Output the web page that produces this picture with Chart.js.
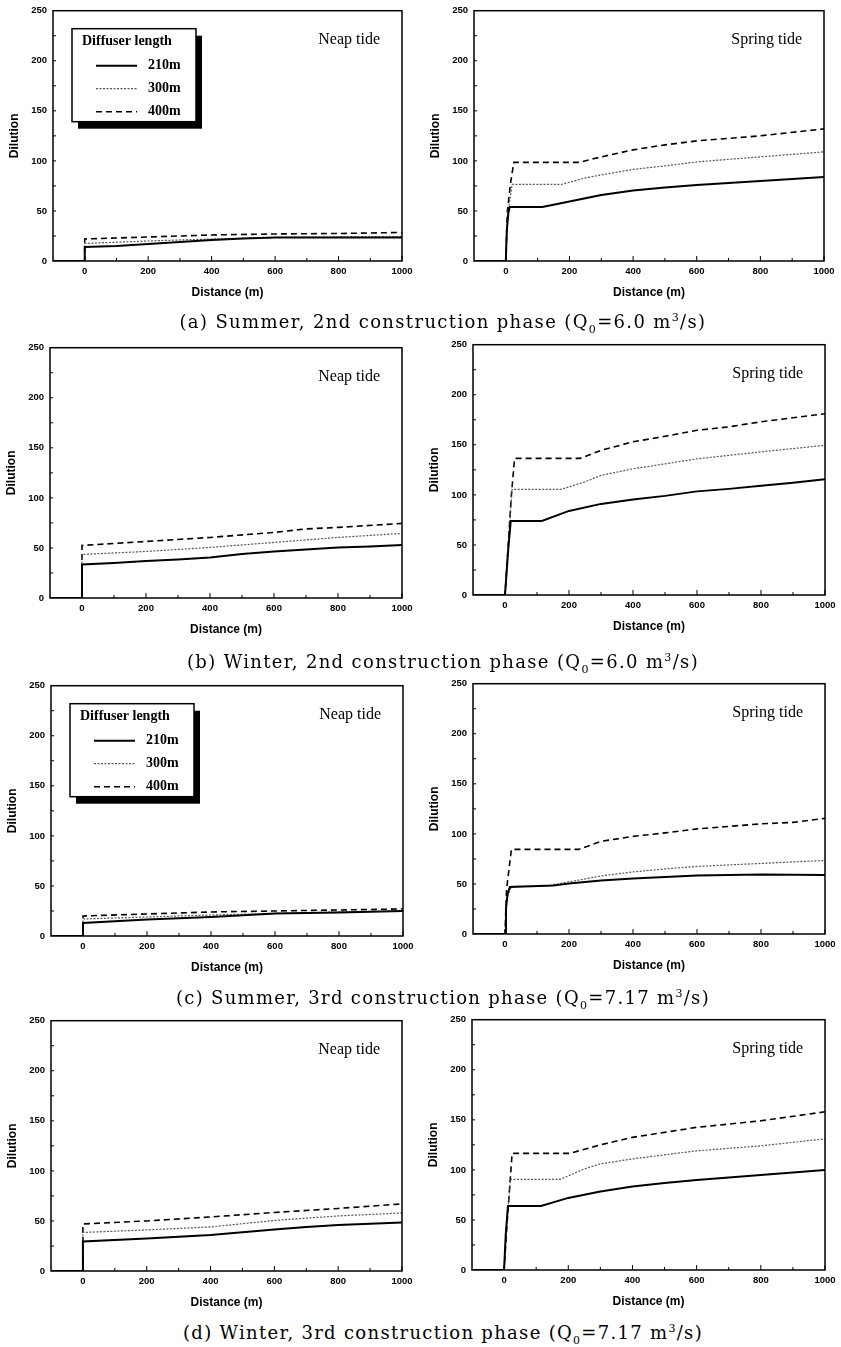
<!DOCTYPE html>
<html>
<head>
<meta charset="utf-8">
<script src="https://cdn.jsdelivr.net/npm/chart.js@4.4.1/dist/chart.umd.min.js"></script>
<style>
  body { margin: 0; background: #fff; width: 841px; height: 1347px; position: relative; overflow: hidden; }
  .panel { position: absolute; }
  .cap { position: absolute; font-family: "DejaVu Serif", "Liberation Serif", serif; font-size: 18px;
         line-height: 24px; white-space: nowrap; color: #000; }
  .cap sub, .cap sup { font-size: 11px; line-height: 0; }
</style>
</head>
<body>
<script>
// series names (diffuser length)
const lengthLabels = ['210m', '300m', '400m'];
const xTickStep = 100;
const yTickStep = 50;

// (a) Summer, 2nd phase
const aNeap210 = [[-100,0],[0,0],[0,14],[100,15],[200,17],[300,19],[400,21],[500,22.5],[600,23.5],[800,23.5],[1000,23.5]];
const aNeap300 = [[-100,0],[0,0],[0,17.5],[200,20],[400,22],[600,23.5],[800,24],[1000,24.5]];
const aNeap400 = [[-100,0],[0,0],[0,22],[200,24],[400,26],[600,27],[800,27.5],[1000,28.5]];
const aSpring210 = [[-100,0],[0,0],[3,30],[8,48],[12,54],[115,54],[200,59.5],[300,66],[400,70.5],[500,73.5],[600,76],[800,80],[1000,84]];
const aSpring300 = [[-100,0],[0,0],[5,45],[20,76.5],[175,76.5],[250,83],[300,86],[400,91.5],[500,95],[600,99],[800,104],[1000,109]];
const aSpring400 = [[-100,0],[0,0],[5,50],[15,78],[25,98.5],[230,98.5],[300,104],[400,111],[500,116],[600,120],[800,125],[1000,132]];

// (b) Winter, 2nd phase
const bNeap210 = [[-100,0],[0,0],[0,33.5],[100,35],[200,37],[300,38.5],[400,40.5],[500,44],[600,46.5],[700,48.5],[800,50.5],[900,51.5],[1000,53]];
const bNeap300 = [[-100,0],[0,0],[0,43.5],[200,46.5],[400,50.5],[600,55.5],[800,60.5],[1000,64.5]];
const bNeap400 = [[-100,0],[0,0],[0,52.5],[200,56.5],[400,60.5],[600,65.5],[700,69],[800,70.5],[1000,74.5]];
const bSpring210 = [[-100,0],[0,0],[10,45],[18,74],[115,74],[200,84],[300,91],[400,95.5],[500,99],[600,103.5],[700,106],[800,109],[900,112],[1000,115.5]];
const bSpring300 = [[-100,0],[0,0],[10,50],[22,105.5],[175,105.5],[250,113],[300,119.5],[400,126],[500,131],[600,136],[700,139.5],[800,143],[1000,149.5]];
const bSpring400 = [[-100,0],[0,0],[12,60],[20,100],[30,136.5],[235,136.5],[300,144.5],[400,153],[500,158.5],[600,164.5],[700,168],[800,173],[900,177],[1000,181]];

// (c) Summer, 3rd phase
const cNeap210 = [[-100,0],[0,0],[0,13],[200,16.5],[400,19],[600,22.5],[800,23.5],[1000,25]];
const cNeap300 = [[-100,0],[0,0],[0,17],[200,19],[400,21],[600,22.5],[800,24],[1000,25]];
const cNeap400 = [[-100,0],[0,0],[0,20],[200,22],[400,24],[600,25],[800,26],[1000,27]];
const cSpring210 = [[-100,0],[0,0],[3,25],[8,40],[15,47],[150,48.5],[200,50.5],[300,53.5],[400,55.5],[500,57],[600,58.5],[800,59.5],[1000,59]];
const cSpring300 = [[-100,0],[0,0],[5,35],[20,47.5],[120,47.5],[200,52],[300,58],[400,62],[500,65],[600,67.5],[800,70.5],[1000,73.5]];
const cSpring400 = [[-100,0],[0,0],[5,45],[20,84.5],[230,84.5],[300,92.5],[400,97.5],[500,101],[600,105],[700,107.5],[800,110],[900,111.5],[1000,115.5]];

// (d) Winter, 3rd phase
const dNeap210 = [[-100,0],[0,0],[0,29.5],[200,32.5],[400,36],[600,41.5],[700,44],[800,46],[1000,48.5]];
const dNeap300 = [[-100,0],[0,0],[0,38.5],[200,41],[400,44],[600,50.5],[800,55],[1000,58]];
const dNeap400 = [[-100,0],[0,0],[0,47],[200,50],[400,54],[600,58.5],[800,62.5],[1000,67]];
const dSpring210 = [[-100,0],[0,0],[5,35],[12,64],[115,64],[200,72],[300,78.5],[400,83.5],[500,87],[600,90],[800,95],[1000,100]];
const dSpring300 = [[-100,0],[0,0],[8,45],[20,90.5],[175,90.5],[250,101],[300,106],[400,111],[500,115],[600,119],[800,124],[1000,131]];
const dSpring400 = [[-100,0],[0,0],[10,50],[25,116.5],[205,116.5],[300,125],[400,132.5],[500,137.5],[600,142.5],[800,149],[1000,158]];

const captions = [
  '(a) Summer, 2nd construction phase (Q<sub>0</sub>=6.0 m<sup>3</sup>/s)',
  '(b) Winter, 2nd construction phase (Q<sub>0</sub>=6.0 m<sup>3</sup>/s)',
  '(c) Summer, 3rd construction phase (Q<sub>0</sub>=7.17 m<sup>3</sup>/s)',
  '(d) Winter, 3rd construction phase (Q<sub>0</sub>=7.17 m<sup>3</sup>/s)'
];

// line looks for 210 / 300 / 400 m
const lineStyles = [
  { borderColor: '#000', borderWidth: 2, borderDash: [] },
  { borderColor: '#555', borderWidth: 1.2, borderDash: [2, 1.5] },
  { borderColor: '#000', borderWidth: 1.6, borderDash: [6, 4] }
];

const panels = [
  { id: 'aN', tide: 'Neap tide',   key: true,  plot: [53, 9, 349],    series: [aNeap210, aNeap300, aNeap400] },
  { id: 'aS', tide: 'Spring tide', key: false, plot: [474, 9, 350],   series: [aSpring210, aSpring300, aSpring400] },
  { id: 'bN', tide: 'Neap tide',   key: false, plot: [50, 346, 352],  series: [bNeap210, bNeap300, bNeap400] },
  { id: 'bS', tide: 'Spring tide', key: false, plot: [473, 343, 352], series: [bSpring210, bSpring300, bSpring400] },
  { id: 'cN', tide: 'Neap tide',   key: true,  plot: [51, 684, 352],  series: [cNeap210, cNeap300, cNeap400] },
  { id: 'cS', tide: 'Spring tide', key: false, plot: [473, 682, 352], series: [cSpring210, cSpring300, cSpring400] },
  { id: 'dN', tide: 'Neap tide',   key: false, plot: [51, 1019, 351], series: [dNeap210, dNeap300, dNeap400] },
  { id: 'dS', tide: 'Spring tide', key: false, plot: [472, 1018, 353], series: [dSpring210, dSpring300, dSpring400] }
];
const plotH = 252;
const yAxisW = 52, padTop = 10, padRight = 16, xAxisH = 44;

const sansBold = { family: '"Liberation Sans", Arial, sans-serif', weight: 'bold' };

// frame, inner ticks, tide name and the key box
const decorPlugin = {
  id: 'decor',
  afterDatasetsDraw(chart, args, opts) {
    const { ctx, chartArea: a, scales: { x, y } } = chart;
    ctx.save();
    ctx.strokeStyle = '#000';
    ctx.lineWidth = 1.5;
    ctx.strokeRect(a.left, a.top, a.right - a.left, a.bottom - a.top);

    ctx.lineWidth = 1;
    for (let v = 0; v <= 1000; v += 100) {
      const px = x.getPixelForValue(v);
      const len = v % 200 === 0 ? 5 : 3;
      ctx.beginPath(); ctx.moveTo(px, a.bottom); ctx.lineTo(px, a.bottom - len); ctx.stroke();
    }
    for (let v = 25; v < 250; v += 25) {
      const py = y.getPixelForValue(v);
      ctx.beginPath(); ctx.moveTo(a.left, py); ctx.lineTo(a.left + 3, py); ctx.stroke();
    }

    ctx.fillStyle = '#000';
    ctx.font = '16px "Liberation Serif", "Times New Roman", serif';
    ctx.textAlign = 'right';
    ctx.textBaseline = 'middle';
    ctx.fillText(opts.tide, a.right - 22, a.top + 29);

    if (opts.key) {
      const bx = a.left + 19, by = a.top + 18, bw = 124, bh = 93;
      ctx.fillRect(bx + 6, by + 7, bw, bh);
      ctx.fillStyle = '#fff';
      ctx.fillRect(bx, by, bw, bh);
      ctx.lineWidth = 1.5;
      ctx.strokeRect(bx, by, bw, bh);
      ctx.fillStyle = '#000';
      ctx.textAlign = 'left';
      ctx.font = 'bold 14px "Liberation Serif", "Times New Roman", serif';
      ctx.fillText('Diffuser length', bx + 10, by + 13);
      chart.data.datasets.forEach((ds, i) => {
        const ly = by + 37 + i * 23;
        ctx.strokeStyle = ds.borderColor;
        ctx.lineWidth = ds.borderWidth;
        ctx.setLineDash(ds.borderDash);
        ctx.beginPath(); ctx.moveTo(bx + 24, ly); ctx.lineTo(bx + 65, ly); ctx.stroke();
        ctx.setLineDash([]);
        ctx.fillText(ds.label, bx + 76, ly);
      });
    }
    ctx.restore();
  }
};

panels.forEach(p => {
  const [left, top, w] = p.plot;
  const cw = yAxisW + w + padRight, ch = padTop + plotH + xAxisH;
  const div = document.createElement('div');
  div.className = 'panel';
  div.style.left = (left - yAxisW) + 'px';
  div.style.top = (top - padTop) + 'px';
  div.style.width = cw + 'px';
  div.style.height = ch + 'px';
  const canvas = document.createElement('canvas');
  canvas.width = cw; canvas.height = ch;
  div.appendChild(canvas);
  document.body.appendChild(div);

  new Chart(canvas.getContext('2d'), {
    type: 'line',
    data: {
      datasets: p.series.map((pts, i) => ({
        label: lengthLabels[i],
        data: pts,
        ...lineStyles[i],
        pointRadius: 0,
        fill: false,
        tension: 0
      }))
    },
    options: {
      responsive: false,
      animation: false,
      layout: { padding: { top: padTop, right: padRight, left: 0, bottom: 0 } },
      plugins: {
        legend: { display: false },
        tooltip: { enabled: false },
        decor: { tide: p.tide, key: p.key }
      },
      scales: {
        x: {
          type: 'linear', min: -100, max: 1000,
          grid: { display: false, drawTicks: false },
          border: { display: false },
          ticks: {
            stepSize: xTickStep, autoSkip: false, maxRotation: 0, padding: 5, color: '#000',
            font: { ...sansBold, size: 9.5 },
            callback: v => (v >= 0 && v % 200 === 0) ? String(v) : ''
          },
          title: { display: true, text: 'Distance (m)', color: '#000',
                   font: { ...sansBold, size: 12 }, padding: { top: 0, bottom: 5 } },
          afterFit: s => { s.height = xAxisH; }
        },
        y: {
          type: 'linear', min: 0, max: 250,
          grid: { display: false, drawTicks: false },
          border: { display: false },
          ticks: { stepSize: yTickStep, padding: 6, color: '#000', font: { ...sansBold, size: 9.5 } },
          title: { display: true, text: 'Dilution', color: '#000',
                   font: { ...sansBold, size: 12 }, padding: { top: 6, bottom: 0 } },
          afterFit: s => { s.width = yAxisW; }
        }
      }
    },
    plugins: [decorPlugin]
  });
});

// captions under each row, stretched to the printed width
const capCenters = [322, 662, 998, 1333];
const capWidths = [527, 512, 534, 520];
captions.forEach((html, i) => {
  const d = document.createElement('div');
  d.className = 'cap';
  d.innerHTML = html;
  document.body.appendChild(d);
  const n = d.textContent.length;
  const w0 = d.getBoundingClientRect().width;
  d.style.letterSpacing = ((capWidths[i] - w0) / n) + 'px';
  const w1 = d.getBoundingClientRect().width;
  d.style.left = (443 - w1 / 2) + 'px';
  d.style.top = (capCenters[i] - 12) + 'px';
});
</script>
</body>
</html>
